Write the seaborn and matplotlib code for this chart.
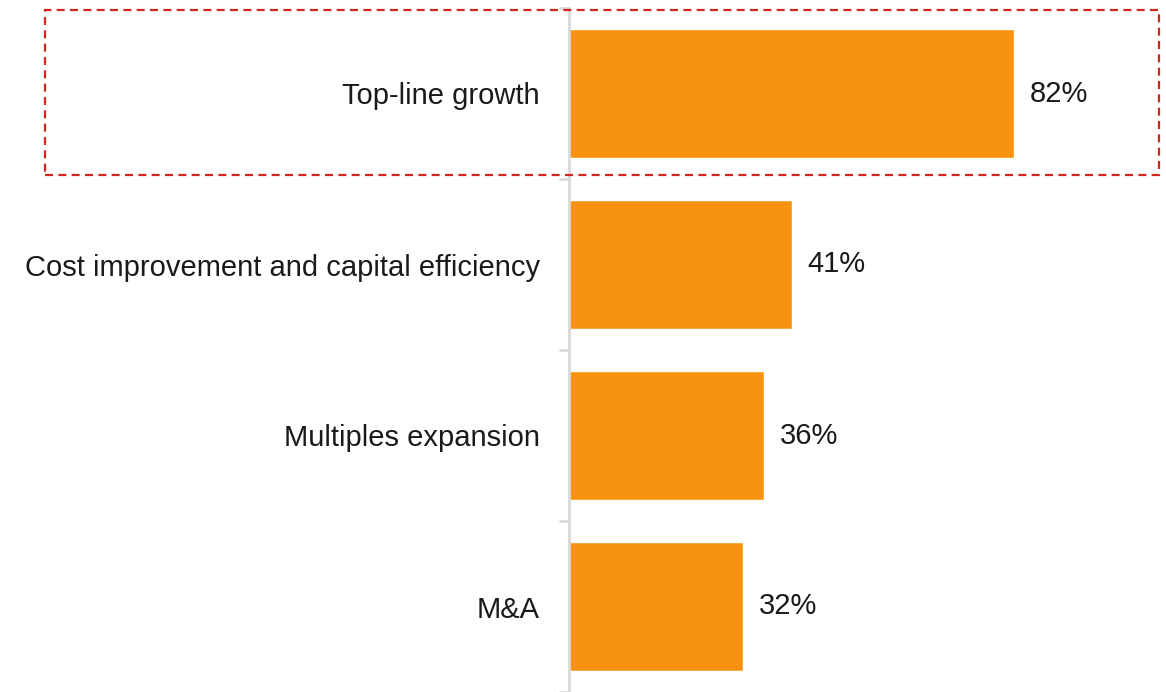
import matplotlib
matplotlib.use("Agg")
import matplotlib.pyplot as plt
import seaborn as sns
import pandas as pd
from matplotlib.patches import Rectangle

categories = ["Top-line growth", "Cost improvement and capital efficiency",
              "Multiples expansion", "M&A"]
values = [82, 41, 36, 32]
value_labels = ["82%", "41%", "36%", "32%"]

sns.set_theme(style="white")
plt.rcParams['font.family'] = ['Liberation Sans', 'DejaVu Sans']

W, H = 1166, 692
fig = plt.figure(figsize=(W / 100, H / 100), dpi=100)
ax = fig.add_axes([569 / W, 0.0, 1 - 569 / W, 1 - 8 / H])

df = pd.DataFrame({"category": categories, "value": values})
sns.barplot(data=df, x="value", y="category", orient="h", color="#F7930E",
            saturation=1, width=0.76, ax=ax)

ax.set_xlim(0, 110)
ax.set_ylim(len(categories) - 0.5, -0.5)
ax.set_xlabel("")
ax.set_ylabel("")
ax.set_xticks([])
for s in ["top", "right", "bottom"]:
    ax.spines[s].set_visible(False)
ax.spines["left"].set_color("#D9D9D9")
ax.spines["left"].set_linewidth(2)

ax.set_yticks(range(len(categories)))
ax.set_yticklabels(categories)
ax.tick_params(axis="y", which="major", left=True, length=0, pad=21,
               labelsize=21, labelcolor="#1a1a1a")
ax.set_yticks([i - 0.5 for i in range(len(categories) + 1)], minor=True)
ax.tick_params(axis="y", which="minor", left=True, length=7.5, width=2,
               color="#D9D9D9")

for i, (v, lab) in enumerate(zip(values, value_labels)):
    ax.annotate(lab, xy=(v, i), xytext=(11.5, 0), textcoords="offset points",
                va="center", ha="left", fontsize=21, color="#1a1a1a")

rect = Rectangle((45 / W, 1 - 175 / H), (1159 - 45) / W, (175 - 10) / H,
                 transform=fig.transFigure, fill=False, edgecolor="#D0281F",
                 linewidth=1.6, linestyle=(0, (3.6, 2.4)), clip_on=False)
fig.patches.append(rect)

fig.savefig("out.png", dpi=100)
